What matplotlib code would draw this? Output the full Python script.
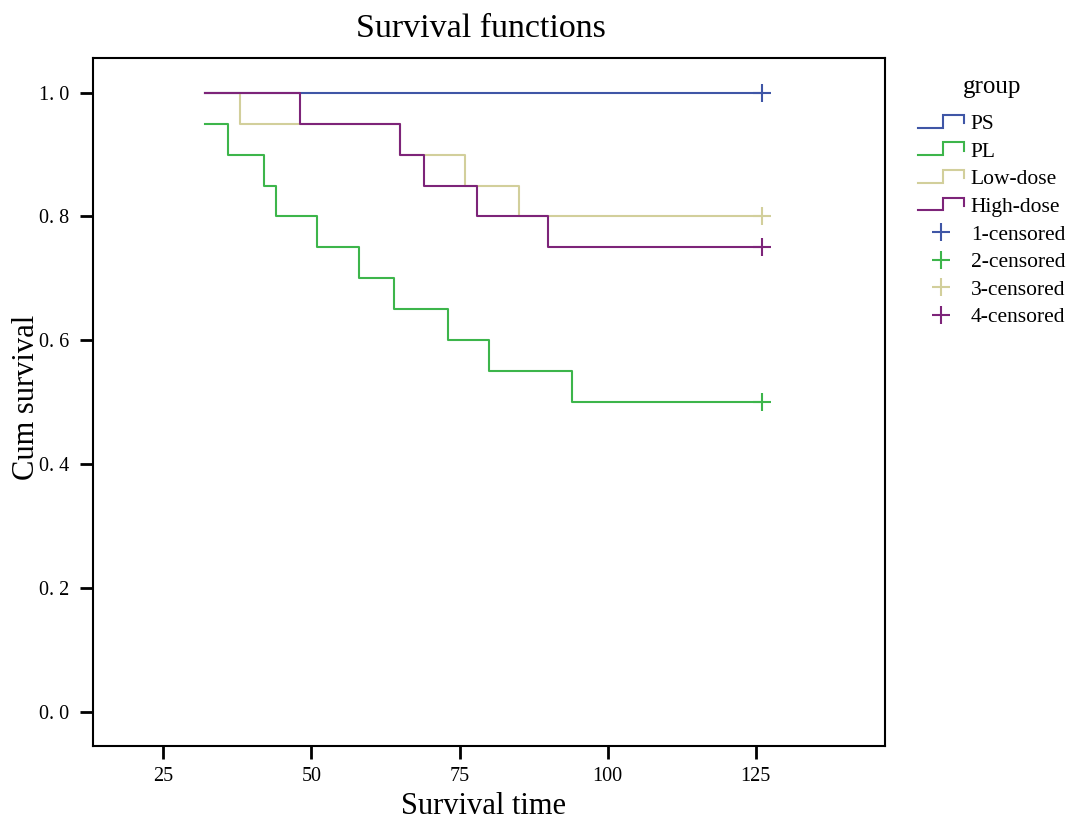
import matplotlib
matplotlib.use("Agg")
import matplotlib.pyplot as plt
from matplotlib.lines import Line2D
from matplotlib.legend_handler import HandlerBase

# Kaplan-Meier step data
groups = ["PS", "PL", "Low-dose", "High-dose"]
colors = ["#3f56a6", "#3db54b", "#d2cf9b", "#7d2479"]

t_ps = [32, 126]
s_ps = [1.0, 1.0]

t_pl = [32, 36, 42, 44, 51, 58, 64, 73, 80, 94, 126]
s_pl = [0.95, 0.90, 0.85, 0.80, 0.75, 0.70, 0.65, 0.60, 0.55, 0.50, 0.50]

t_low = [32, 38, 65, 76, 85, 126]
s_low = [1.0, 0.95, 0.90, 0.85, 0.80, 0.80]

t_high = [32, 48, 65, 69, 78, 90, 126]
s_high = [1.0, 0.95, 0.90, 0.85, 0.80, 0.75, 0.75]

censor_t = [126, 126, 126, 126]
censor_s = [1.0, 0.50, 0.80, 0.75]

xticks = [25, 50, 75, 100, 125]
yticks = [0.0, 0.2, 0.4, 0.6, 0.8, 1.0]

SERIF = "Liberation Serif"


class StepHandler(HandlerBase):
    # legend handle drawn as a little step
    def create_artists(self, legend, orig_handle, xdescent, ydescent,
                       width, height, fontsize, trans):
        x0 = -xdescent
        y0 = -ydescent
        xs = [x0, x0 + width * 0.55, x0 + width * 0.55, x0 + width, x0 + width]
        ys = [y0 + height * 0.1, y0 + height * 0.1, y0 + height * 0.95,
              y0 + height * 0.95, y0 + height * 0.4]
        ln = Line2D(xs, ys, color=orig_handle.get_color(), lw=1.5,
                    solid_joinstyle="miter", transform=trans)
        return [ln]


fig = plt.figure(figsize=(10.87, 8.27), dpi=100)
ax = fig.add_axes([0.0858, 0.098, 0.7284, 0.8315])

curves = [(t_ps, s_ps), (t_pl, s_pl), (t_low, s_low), (t_high, s_high)]
step_handles = []
for (t, s), c, g in zip(curves, colors, groups):
    ln, = ax.plot(t, s, drawstyle="steps-post", color=c, lw=1.5, label=g)
    step_handles.append(ln)

cens_handles = []
for i, c in enumerate(colors):
    m, = ax.plot(censor_t[i], censor_s[i], marker="+", ls="none", color=c,
                 markersize=13, mew=1.5, label=f"{i + 1}-censored")
    cens_handles.append(m)

ax.set_xlim(13.2, 146.8)
ax.set_ylim(-0.0555, 1.0556)
ax.set_xticks(xticks)
ax.set_yticks(yticks)
ax.set_xticklabels([str(v) for v in xticks])
ax.set_yticklabels([f"{v:.1f}".replace(".", ". ") for v in yticks])

for sp in ax.spines.values():
    sp.set_linewidth(1.5)
ax.tick_params(direction="out", length=9.5, width=2, labelsize=14.5)
ax.tick_params(axis="x", pad=6)
ax.tick_params(axis="y", pad=8)
for lab in ax.get_xticklabels() + ax.get_yticklabels():
    lab.set_family(SERIF)

ax.set_title("Survival functions", family=SERIF, fontsize=24.5, pad=15, x=0.49)
ax.set_xlabel("Survival time", family=SERIF, fontsize=22, labelpad=4)
ax.set_ylabel("Cum survival", family=SERIF, fontsize=22, labelpad=-2)
ax.xaxis.label.set_x(0.4925)
ax.yaxis.label.set_y(0.507)

handler_map = {h: StepHandler() for h in step_handles}
leg = fig.legend(step_handles + cens_handles,
                 groups + [f"{i + 1}-censored" for i in range(4)],
                 handler_map=handler_map, loc="upper left",
                 bbox_to_anchor=(0.835, 0.921), frameon=False,
                 title="group", prop={"family": SERIF, "size": 15.5},
                 handlelength=2.1, handletextpad=0.33, labelspacing=0.35,
                 borderpad=0.0)
leg.get_title().set_family(SERIF)
leg.get_title().set_fontsize(18)
leg._legend_box.sep = 11.5

fig.savefig("out.png", dpi=100)
